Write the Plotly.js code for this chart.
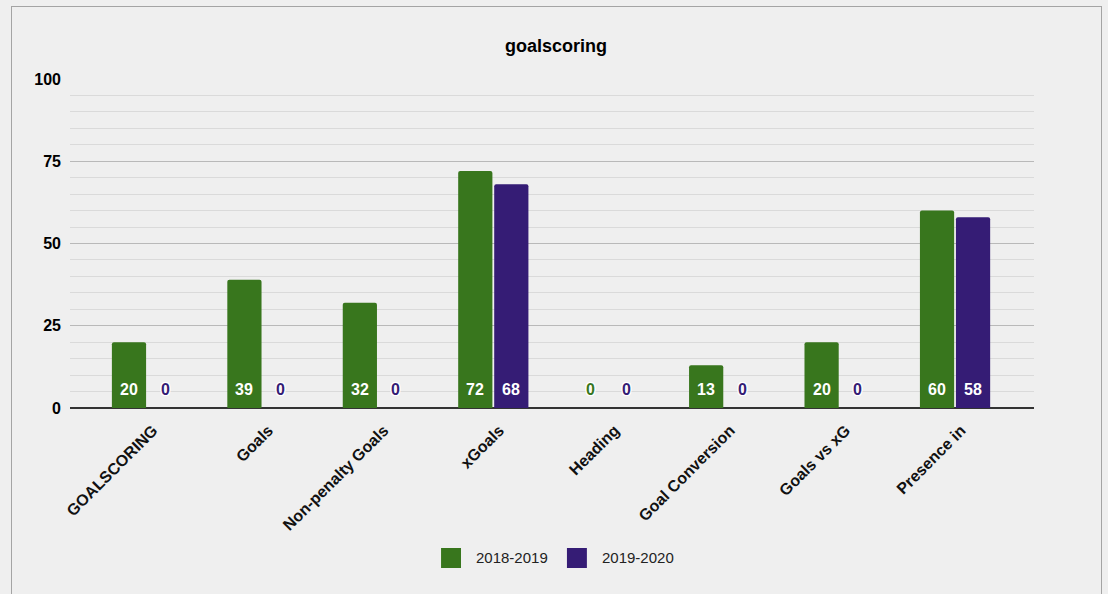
<!DOCTYPE html>
<html>
<head>
<meta charset="utf-8">
<script src="https://cdn.plot.ly/plotly-3.0.1.min.js"></script>
<style>
  html, body { margin:0; padding:0; background:#efefef; }
  #wrap { position:relative; width:1108px; height:594px; overflow:hidden; }
  #chart { width:1108px; height:594px; }
  #frame { position:absolute; left:11px; top:6px; width:1089px; height:620px;
           border-left:1px solid #a4a4a4; border-top:1px solid #a4a4a4; border-right:1px solid #a4a4a4;
           pointer-events:none; }
</style>
</head>
<body>
<div id="wrap"><div id="chart"></div><div id="frame"></div></div>
<script>
const categories = ["GOALSCORING","Goals","Non-penalty Goals","xGoals","Heading","Goal Conversion","Goals vs xG","Presence in"];
const season1Name = "2018-2019";
const season2Name = "2019-2020";
const season1 = [20, 39, 32, 72, 0, 13, 20, 60];
const season2 = [0, 0, 0, 68, 0, 0, 0, 58];
const yTicks = [0, 25, 50, 75, 100];

const GREEN = "#38761d", PURPLE = "#351c75";
const SANS = "'Liberation Sans', Arial, sans-serif";
const outline = "1px 1px 0 #fff, -1px -1px 0 #fff, 1px -1px 0 #fff, -1px 1px 0 #fff, 0 1px 0 #fff, 0 -1px 0 #fff, 1px 0 0 #fff, -1px 0 0 #fff";

const traces = [
  {type:"bar", name:season1Name, x:categories, y:season1, marker:{color:GREEN}, hoverinfo:"none", showlegend:false},
  {type:"bar", name:season2Name, x:categories, y:season2, marker:{color:PURPLE}, hoverinfo:"none", showlegend:false}
];

const annotations = [];
function addLabels(values, color, shift) {
  values.forEach((v, i) => {
    const zero = v === 0;
    annotations.push({
      x: categories[i], y: 0, xref:"x", yref:"y",
      text: String(v), showarrow:false, xshift: shift, yshift: 19,
      xanchor:"center", yanchor:"middle",
      font: {family: SANS, size: 16, weight: "bold", color: zero ? color : "#ffffff", shadow: zero ? outline : "none"}
    });
  });
}
addLabels(season1, GREEN, -18);
addLabels(season2, PURPLE, 18);

// manual legend (large swatches)
const legendItems = [[season1Name, GREEN, 0.3849], [season2Name, PURPLE, 0.5155]];
const shapes = [];
legendItems.forEach(([name, color, x0]) => {
  shapes.push({type:"rect", xref:"paper", yref:"paper", x0:x0, x1:x0+0.0207, y0:-0.4255, y1:-0.4863,
               fillcolor:color, line:{width:0}});
  annotations.push({xref:"paper", yref:"paper", x:x0+0.0343, y:-0.4559, xanchor:"left", yanchor:"middle",
                    showarrow:false, text:name, font:{family:SANS, size:15, color:"#222"}});
});

const layout = {
  width:1108, height:594,
  paper_bgcolor:"#efefef", plot_bgcolor:"#efefef",
  margin:{l:70, r:74, t:79, b:186},
  title:{text:"goalscoring", font:{family:SANS, size:18, weight:"bold", color:"#000"},
         x:0.5019, xref:"container", y:1-46/594, yref:"container", yanchor:"middle"},
  barmode:"group", bargap:0.376, bargroupgap:0.05, barcornerradius:2,
  xaxis:{type:"category", range:[-0.667, 7.684], showgrid:false, zeroline:false, showline:false,
         tickangle:-45, ticks:"", ticklabelshift:6, ticklabelstandoff:9,
         tickfont:{family:SANS, size:16, weight:"bold", color:"#111"}, fixedrange:true},
  yaxis:{range:[0,100], tickvals:yTicks, ticktext:yTicks.map(String), showgrid:true, gridcolor:"#b9b9b9", gridwidth:1,
         zeroline:true, zerolinecolor:"#333", zerolinewidth:1.5, showline:false, ticks:"",
         ticklabelstandoff:8,
         tickfont:{family:SANS, size:16, weight:"bold", color:"#000"},
         minor:{dtick:5, showgrid:true, gridcolor:"#dadada", gridwidth:1}, fixedrange:true},
  annotations: annotations,
  shapes: shapes,
  showlegend:false
};

Plotly.newPlot("chart", traces, layout, {displayModeBar:false, staticPlot:true});
</script>
</body>
</html>
